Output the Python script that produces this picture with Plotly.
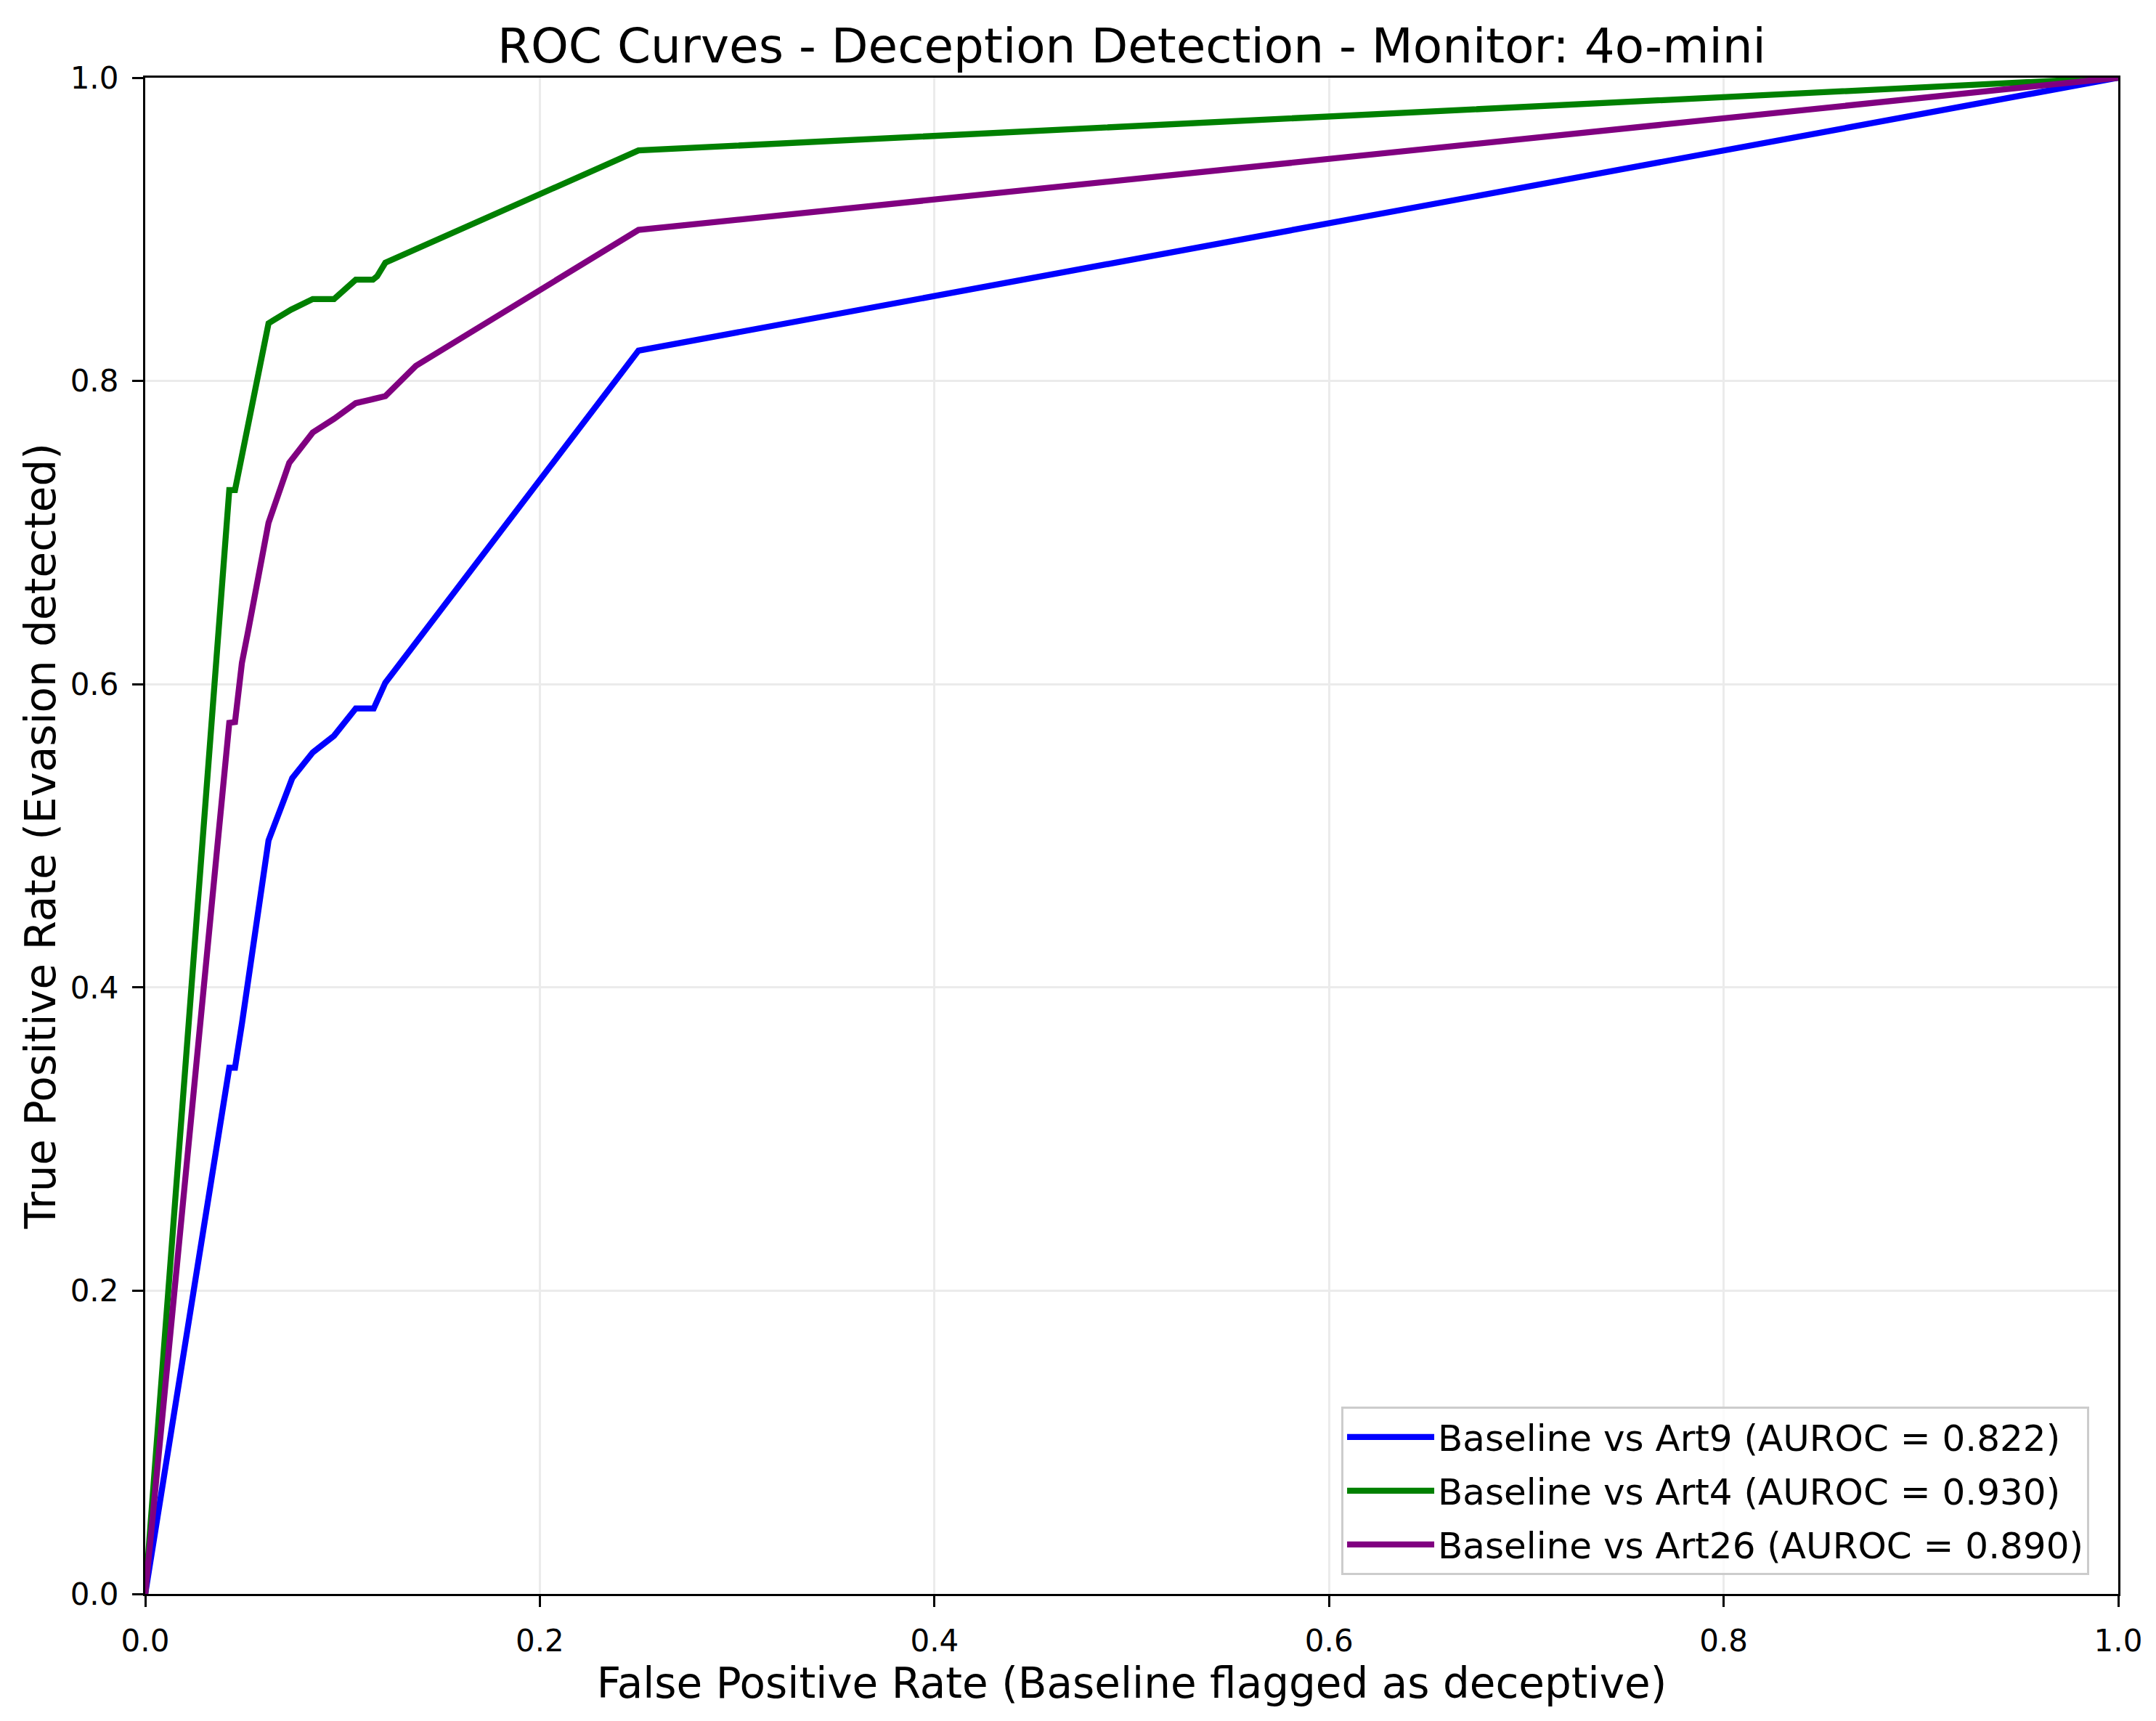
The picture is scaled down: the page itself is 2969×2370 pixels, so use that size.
import plotly.graph_objects as go

# ROC points
fpr_art9 = [0.0, 0.0426, 0.0455, 0.049, 0.0625, 0.0745, 0.0849, 0.0957, 0.1067, 0.1158, 0.1217, 0.25, 1.0]
tpr_art9 = [0.0, 0.347, 0.347, 0.376, 0.497, 0.538, 0.555, 0.566, 0.584, 0.584, 0.601, 0.820, 1.0]

fpr_art4 = [0.0, 0.0426, 0.0455, 0.0625, 0.065, 0.0739, 0.0849, 0.0957, 0.1067, 0.1154, 0.1175, 0.1217, 0.25, 1.0]
tpr_art4 = [0.0, 0.728, 0.728, 0.838, 0.840, 0.847, 0.854, 0.854, 0.8668, 0.8668, 0.869, 0.878, 0.952, 1.0]

fpr_art26 = [0.0, 0.0426, 0.0455, 0.049, 0.052, 0.0625, 0.073, 0.0849, 0.0957, 0.1067, 0.1154, 0.1175, 0.1217, 0.1372, 0.25, 1.0]
tpr_art26 = [0.0, 0.5745, 0.575, 0.614, 0.634, 0.7065, 0.746, 0.766, 0.775, 0.7854, 0.788, 0.7886, 0.790, 0.810, 0.8996, 1.0]

names = [
    "Baseline vs Art9 (AUROC = 0.822)",
    "Baseline vs Art4 (AUROC = 0.930)",
    "Baseline vs Art26 (AUROC = 0.890)",
]
colors = ["blue", "green", "purple"]
tick_vals = [0.0, 0.2, 0.4, 0.6, 0.8, 1.0]

# page body has an 8px margin, so the figure is a bit smaller than the window
W, H = 2953, 2354
FONT = "DejaVu Sans"

fig = go.Figure()
series = [(fpr_art9, tpr_art9), (fpr_art4, tpr_art4), (fpr_art26, tpr_art26)]
for i, ((x, y), name, c) in enumerate(zip(series, names, colors)):
    fig.add_trace(go.Scatter(
        x=x, y=y, mode="lines", name=name, legendgroup=f"g{i}",
        line=dict(color=c, width=8.3),
    ))

axis_common = dict(
    range=[0, 1], tickvals=tick_vals, tickformat=".1f",
    showline=True, linecolor="black", linewidth=3.3, mirror=True,
    ticks="outside", ticklen=15, tickwidth=3.3, tickcolor="black",
    ticklabelstandoff=10,
    showgrid=True, gridcolor="rgb(235,235,235)", gridwidth=3,
    zeroline=False, tickfont=dict(family=FONT, size=42, color="black"),
)

fig.update_layout(
    width=W, height=H,
    margin=dict(l=192, r=44, t=99, b=167),
    paper_bgcolor="white", plot_bgcolor="white",
    font=dict(family=FONT, color="black"),
    title=dict(
        text="ROC Curves - Deception Detection - Monitor: 4o-mini",
        x=(192 + 2909) / 2 / W, xanchor="center",
        y=1 - 55 / H, yanchor="middle", yref="container",
        font=dict(family=FONT, size=66, color="black"),
    ),
    xaxis=dict(axis_common, title=dict(
        text="False Positive Rate (Baseline flagged as deceptive)",
        font=dict(family=FONT, size=58, color="black"), standoff=10)),
    yaxis=dict(axis_common, title=dict(
        text="True Positive Rate (Evasion detected)",
        font=dict(family=FONT, size=58, color="black"), standoff=2)),
    legend=dict(
        x=0.9853, y=0.0125, xanchor="right", yanchor="bottom",
        bgcolor="rgba(255,255,255,0.8)", bordercolor="rgb(204,204,204)", borderwidth=3,
        font=dict(family=FONT, size=50, color="black"),
        tracegroupgap=6, itemwidth=120,
    ),
)

fig.write_html("out.html")
